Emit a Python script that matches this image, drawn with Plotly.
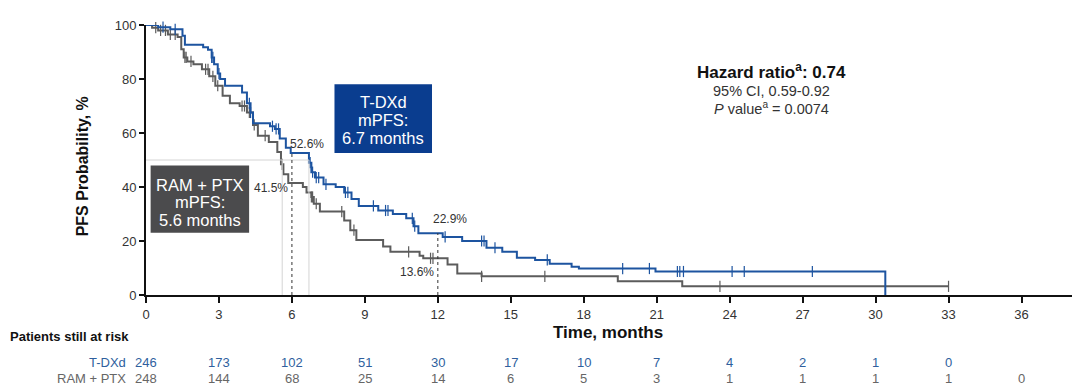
import plotly.graph_objects as go

# ---------------- data ----------------
tdxd_t = [0, 0.5, 1.0, 1.5, 1.6, 2.35, 2.55, 2.7, 2.8, 2.95, 3.05, 3.25, 3.95, 4.15, 4.3, 4.4,
          5.1, 5.3, 5.5, 5.75, 5.95, 6.7, 6.8, 6.95, 7.3, 7.8, 8.15, 8.45, 8.75, 9.55, 10.15,
          10.7, 11.0, 11.2, 12.2, 13.0, 14.0, 14.65, 15.25, 16.0, 16.6, 17.5, 17.8, 20.95, 30.4]
tdxd_s = [100, 99.2, 98.4, 96, 92.7, 91.8, 90.8, 88, 85.5, 82, 80, 77.5, 75, 71, 67.6, 63.6,
          62.5, 61.5, 58, 54.5, 52.6, 49, 45.5, 43.5, 41, 40, 38, 35.6, 33, 31.3, 30,
          28.4, 25.5, 22.9, 21.5, 20, 17.5, 16, 13.8, 13, 11.6, 10.5, 9.8, 8.7, 0]
tdxd_cens = [0.7, 1.2, 2.7, 2.75, 3.0, 4.25, 4.3, 5.2, 5.35, 5.45, 6.75, 6.85, 7.0, 7.1, 7.4,
             8.2, 8.3, 9.35, 9.85, 9.95, 10.95, 11.05, 12.3, 13.8, 13.9, 14.35, 16.5, 19.6,
             20.7, 21.85, 21.95, 22.1, 24.1, 24.6, 27.4]

ram_t = [0, 0.25, 0.5, 0.9, 1.3, 1.45, 1.55, 1.7, 1.95, 2.3, 2.6, 2.85, 3.15, 3.45, 3.85, 4.15,
         4.4, 4.6, 5.05, 5.4, 5.55, 5.65, 5.85, 6.45, 6.6, 6.8, 6.9, 7.15, 8.15, 8.4, 8.65,
         9.75, 10.05, 11.25, 11.4, 12.4, 12.8, 13.8, 19.4, 22.05, 33.0]
ram_s = [100, 99, 98, 96.5, 95.6, 91, 88, 86.5, 85.5, 83.6, 81, 77.5, 73.8, 71, 70, 67.6,
         63, 59, 56.7, 53, 48.4, 44.7, 41.5, 40, 38, 36.3, 33.8, 30.9, 27.6, 24, 20.4,
         18, 16, 14.5, 13.6, 11.3, 8, 6.9, 5.1, 3.2, 3.2]
ram_cens = [0.4, 0.6, 0.8, 1.0, 1.2, 1.6, 1.65, 1.85, 2.45, 2.55, 2.75, 2.95, 3.95, 4.05, 4.25,
            4.45, 4.9, 5.6, 6.8, 6.85, 7.0, 8.05, 8.55, 10.8, 11.7, 11.8, 13.8, 16.4, 23.6, 33.0]

x_ticks = list(range(0, 37, 3))
risk_tdxd = [246, 173, 102, 51, 30, 17, 10, 7, 4, 2, 1, 0]
risk_ram = [248, 144, 68, 25, 14, 6, 5, 3, 1, 1, 1, 1, 0]

median_tdxd, median_ram = 6.7, 5.6
landmark = [(6, 52.6, 41.5), (12, 22.9, 13.6)]
tdxd_box_lines = ["T-DXd", "mPFS:", "6.7 months"]
ram_box_lines = ["RAM + PTX", "mPFS:", "5.6 months"]

# ---------------- styling ----------------
BLUE = "#1d54a0"
GRAY = "#5c5c5c"
BOX_BLUE = "#0a3d8f"
BOX_GRAY = "#4b4b4d"
TXT = "#333333"
RISK_BLUE = "#2f5f9e"
RISK_GRAY = "#666666"
FONT = "Arial, Liberation Sans, sans-serif"


def step_value(ts, ss, t):
    v = ss[0]
    for ti, si in zip(ts, ss):
        if ti <= t:
            v = si
    return v


fig = go.Figure()

# reference lines (median & landmark)
light = dict(color="#d4d4d4", width=1)
fig.add_shape(type="line", x0=0, x1=median_tdxd, y0=50, y1=50, line=light)
fig.add_shape(type="line", x0=median_ram, x1=median_ram, y0=0, y1=50, line=light)
fig.add_shape(type="line", x0=median_tdxd, x1=median_tdxd, y0=0, y1=50, line=light)
for t, yb, yg in landmark:
    fig.add_shape(type="line", x0=t, x1=t, y0=0, y1=yb,
                  line=dict(color="#333333", width=1, dash="dot"))

# curves
for ts, ss, cens, col, name in [(ram_t, ram_s, ram_cens, GRAY, "RAM + PTX"),
                                 (tdxd_t, tdxd_s, tdxd_cens, BLUE, "T-DXd")]:
    fig.add_trace(go.Scatter(x=ts, y=ss, mode="lines", line=dict(color=col, width=2, shape="hv"),
                             name=name, showlegend=False, cliponaxis=False))
    fig.add_trace(go.Scatter(x=cens, y=[step_value(ts, ss, c) for c in cens], mode="markers",
                             marker=dict(symbol="line-ns", size=8, line=dict(color=col, width=1.2)),
                             showlegend=False, cliponaxis=False))

# median boxes
fig.add_shape(type="rect", x0=7.75, x1=11.76, y0=52.6, y1=78.1, fillcolor=BOX_BLUE,
              line=dict(width=0), layer="above")
fig.add_shape(type="rect", x0=0.19, x1=4.24, y0=23.1, y1=48.0, fillcolor=BOX_GRAY,
              line=dict(width=0), layer="above")

ann = []


def add(x, y, text, size, color, xref="x", yref="y", xanchor="center", **kw):
    ann.append(dict(x=x, y=y, xref=xref, yref=yref, text=text, showarrow=False,
                    xanchor=xanchor, yanchor="middle",
                    font=dict(size=size, color=color, family=FONT), **kw))


# percentages
for x, y, s in [(6.61, 56.1, "52.6%"), (5.16, 39.6, "41.5%"),
                (12.51, 28.0, "22.9%"), (11.15, 8.4, "13.6%")]:
    add(x, y, s, 12, TXT)

# box texts
for line, y in zip(tdxd_box_lines, [71.5, 64.9, 58.3]):
    add(9.755, y, line, 16.5, "white")
for line, y in zip(ram_box_lines, [40.8, 34.5, 27.9]):
    add(2.215, y, line, 16.5, "white")

# hazard ratio
add(25.7, 83.1, "<b>Hazard ratio<sup>a</sup>: 0.74</b>", 17, "#111")
add(25.7, 75.4, "95% CI, 0.59-0.92", 14.5, TXT)
add(25.7, 69.3, "<i>P</i> value<sup>a</sup> = 0.0074", 14.5, TXT)

# axis titles
add(-0.0689, 0.4765, "<b>PFS Probability, %</b>", 16, "#111", xref="paper", yref="paper",
    textangle=-90)
add(19.0, -0.14, "<b>Time, months</b>", 17, "#111", yref="paper")

# risk table
add(-0.1486, -0.155, "<b>Patients still at risk</b>", 13, "#111", xref="paper", yref="paper",
    xanchor="left")
add(-0.0194, -0.249, "T-DXd", 13, RISK_BLUE, xref="paper", yref="paper", xanchor="right")
add(-0.0194, -0.31, "RAM + PTX", 13, RISK_GRAY, xref="paper", yref="paper", xanchor="right")
for i, v in enumerate(risk_tdxd):
    add(x_ticks[i], -0.249, str(v), 13, RISK_BLUE, yref="paper")
for i, v in enumerate(risk_ram):
    add(x_ticks[i], -0.31, str(v), 13, RISK_GRAY, yref="paper")

fig.update_layout(
    width=1080, height=390,
    margin=dict(l=138, r=13, t=10, b=103),
    plot_bgcolor="white", paper_bgcolor="white",
    annotations=ann,
    font=dict(family=FONT, color=TXT, size=13),
    xaxis=dict(range=[0, 38.2], tickvals=x_ticks, showgrid=False, zeroline=False,
               showline=True, linecolor="#111", linewidth=2, ticks="outside", ticklen=6,
               tickwidth=2, tickcolor="#111", tickfont=dict(size=13, color=TXT)),
    yaxis=dict(range=[0, 100], tickvals=[0, 20, 40, 60, 80, 100], showgrid=False, zeroline=False,
               showline=True, linecolor="#111", linewidth=2, ticks="outside", ticklen=5,
               tickwidth=1.5, tickcolor="#111", tickfont=dict(size=13, color=TXT)),
)

fig.write_html("out.html")
